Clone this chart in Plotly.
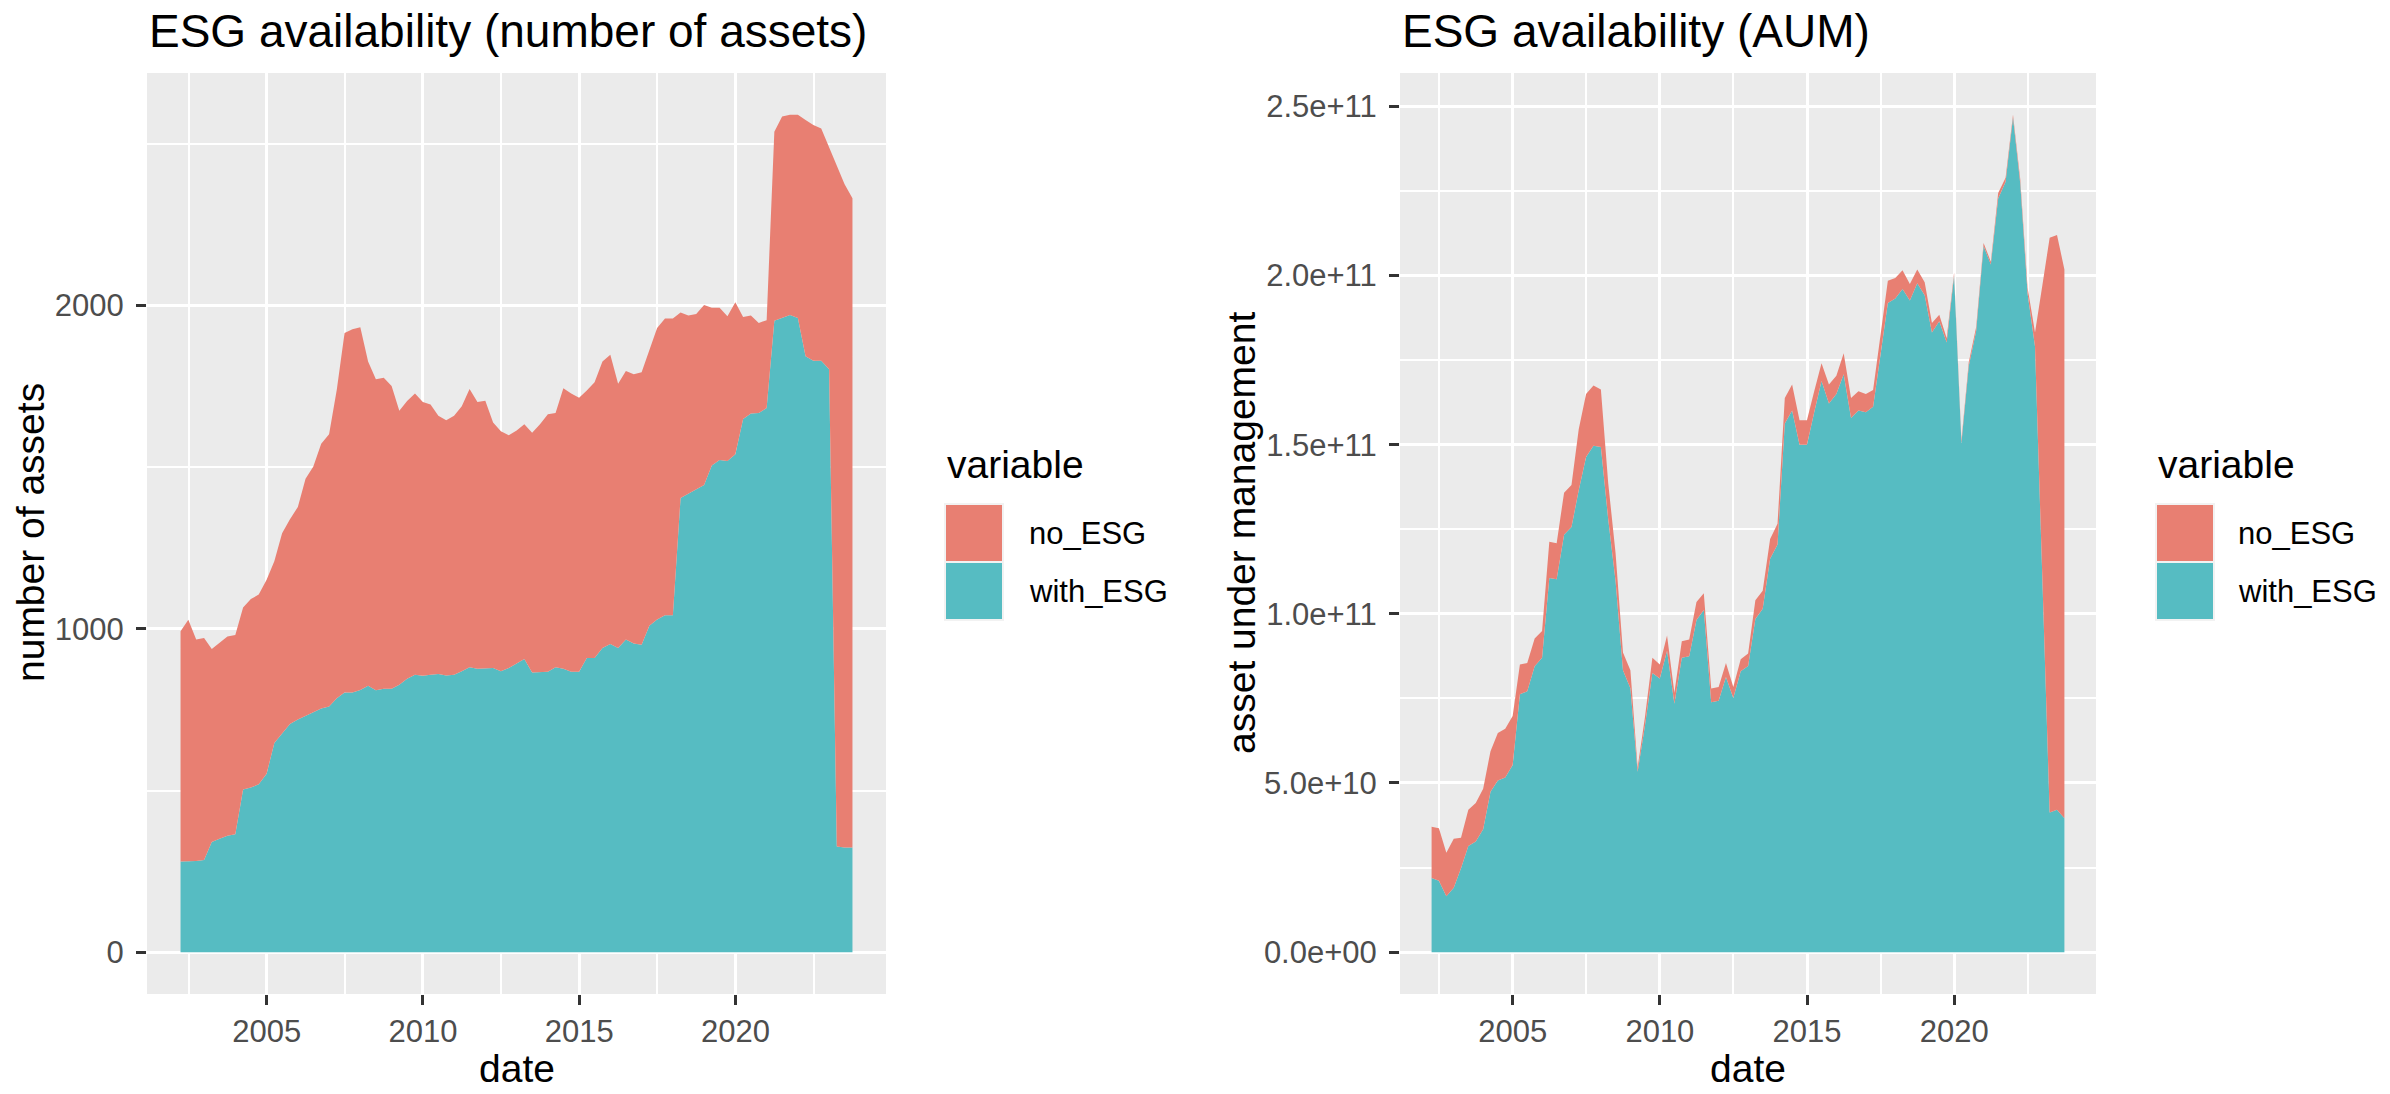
import pandas as pd
import plotly.graph_objects as go

# ---------------- data (quarter-end dates, 2002Q1 .. 2023Q3) ----------------
try:
    dates = pd.date_range("2002-03-31", periods=87, freq="QE")
except Exception:
    dates = pd.date_range("2002-03-31", periods=87, freq="Q")

# number of assets
assets_with_ESG = [280, 280, 282, 285, 341, 351, 360, 365, 503, 509, 519, 552, 647, 676, 706, 720,
                   730, 742, 754, 760, 785, 803, 803, 811, 824, 810, 815, 815, 827, 846, 858, 855,
                   858, 860, 856, 858, 869, 881, 877, 879, 879, 869, 879, 893, 907, 865, 867, 867,
                   881, 877, 867, 867, 910, 910, 941, 953, 941, 967, 955, 951, 1010, 1029, 1042, 1042,
                   1405, 1419, 1433, 1445, 1505, 1522, 1519, 1540, 1649, 1666, 1668, 1683, 1953, 1962,
                   1971, 1962, 1843, 1829, 1829, 1803, 327, 324, 324]
assets_no_ESG = [713, 748, 685, 687, 597, 607, 616, 616, 563, 583, 587, 600, 562, 620, 633, 657,
                 734, 760, 819, 842, 955, 1112, 1124, 1122, 1003, 962, 962, 936, 848, 859, 870, 847,
                 836, 799, 789, 801, 820, 861, 825, 827, 759, 742, 720, 721, 726, 742, 766, 797,
                 787, 867, 861, 848, 827, 853, 886, 895, 817, 831, 833, 843, 853, 902, 918, 918,
                 574, 550, 541, 557, 488, 471, 448, 470, 316, 303, 278, 272, 585, 623, 619, 628,
                 731, 730, 719, 687, 2107, 2051, 2008]

# asset under management, in billions
aum_with_ESG_bn = [21.9, 21.1, 16.5, 19.0, 24.8, 31.4, 32.7, 36.3, 47.4, 50.7, 51.6, 55.3, 76.2, 77.1,
                   84.5, 87.0, 110.6, 110.2, 123.4, 125.7, 136.5, 146.4, 149.7, 149.3, 127.9, 109.7,
                   83.3, 78.0, 53.3, 67.0, 82.5, 80.9, 89.1, 73.4, 87.0, 87.5, 98.2, 101.1, 73.9,
                   74.3, 81.3, 75.1, 83.0, 84.6, 98.5, 101.5, 116.3, 120.5, 156.3, 160.1, 150.0,
                   150.0, 159.6, 168.8, 162.2, 165.0, 170.8, 157.9, 160.1, 159.6, 161.2, 176.6,
                   191.9, 193.2, 196.0, 192.6, 197.7, 194.2, 183.2, 186.5, 180.2, 200.0, 150.5,
                   173.3, 183.6, 208.7, 203.3, 222.8, 227.7, 246.7, 227.2, 194.7, 179.0, 110.0,
                   41.3, 42.1, 39.6]
aum_no_ESG_bn = [15.2, 15.5, 12.9, 14.5, 9.0, 10.7, 11.4, 12.0, 12.0, 14.1, 14.4, 14.5, 8.8, 8.4,
                 8.2, 7.9, 10.7, 10.7, 12.4, 12.4, 18.1, 18.6, 17.8, 17.0, 10.7, 8.3, 5.3, 5.3,
                 1.3, 2.5, 4.5, 4.1, 4.5, 3.3, 4.9, 4.9, 5.3, 5.0, 4.0, 4.1, 4.2, 3.3, 3.6, 3.7,
                 5.5, 5.3, 5.8, 6.1, 7.5, 7.7, 7.2, 7.2, 6.2, 5.3, 5.6, 5.4, 6.2, 5.9, 5.7, 5.4,
                 5.0, 5.7, 6.6, 6.1, 5.6, 4.9, 4.1, 3.8, 2.8, 1.9, 1.3, 0.8, 0.8, 1.1, 1.2, 0.9,
                 0.8, 1.6, 1.2, 0.8, 1.3, 1.7, 4.2, 87.2, 169.9, 169.9, 162.2]

series_names = ["no_ESG", "with_ESG"]
colors = {"no_ESG": "#E87F72", "with_ESG": "#56BCC2"}

x_major = ["2005-01-01", "2010-01-01", "2015-01-01", "2020-01-01"]
x_major_text = ["2005", "2010", "2015", "2020"]
x_minor = ["2002-07-02", "2007-07-02", "2012-07-02", "2017-07-02", "2022-07-02"]
x_range = ["2001-03-04", "2024-10-26"]

y1_major = [0, 1000, 2000]
y1_major_text = ["0", "1000", "2000"]
y1_minor = [500, 1500, 2500]
y1_range = [-129.5, 2719.5]

y2_major = [0, 5e10, 1e11, 1.5e11, 2e11, 2.5e11]
y2_major_text = ["0.0e+00", "5.0e+10", "1.0e+11", "1.5e+11", "2.0e+11", "2.5e+11"]
y2_minor = [2.5e10, 7.5e10, 1.25e11, 1.75e11, 2.25e11]
y2_range = [-1.2375e10, 2.59875e11]

# ---------------- figure ----------------
W, H = 2390, 1094
FONT = "Liberation Sans, Arial, Helvetica, sans-serif"

fig = go.Figure()

fig.add_trace(go.Scatter(x=dates, y=assets_with_ESG, name="with_ESG", mode="lines",
                         stackgroup="a", line=dict(width=0), fillcolor=colors["with_ESG"],
                         xaxis="x", yaxis="y", showlegend=False))
fig.add_trace(go.Scatter(x=dates, y=assets_no_ESG, name="no_ESG", mode="lines",
                         stackgroup="a", line=dict(width=0), fillcolor=colors["no_ESG"],
                         xaxis="x", yaxis="y", showlegend=False))
fig.add_trace(go.Scatter(x=dates, y=[v * 1e9 for v in aum_with_ESG_bn], name="with_ESG", mode="lines",
                         stackgroup="b", line=dict(width=0), fillcolor=colors["with_ESG"],
                         xaxis="x2", yaxis="y2", showlegend=False))
fig.add_trace(go.Scatter(x=dates, y=[v * 1e9 for v in aum_no_ESG_bn], name="no_ESG", mode="lines",
                         stackgroup="b", line=dict(width=0), fillcolor=colors["no_ESG"],
                         xaxis="x2", yaxis="y2", showlegend=False))

px = lambda v: v / W
py = lambda v: 1 - v / H

panel_left = (147, 886)
panel_right = (1400, 2096)
panel_y = (73, 994)

common_axis = dict(
    showline=False, zeroline=False, showgrid=True, gridcolor="white", gridwidth=3,
    ticks="outside", ticklen=10, tickwidth=2.5, tickcolor="#333333",
    tickfont=dict(family=FONT, size=31, color="#4D4D4D"),
)

def xaxis(domain, anchor):
    return dict(common_axis, type="date", domain=domain, anchor=anchor, range=x_range,
                tickmode="array", tickvals=x_major, ticktext=x_major_text, ticklabelstandoff=0,
                minor=dict(tickvals=x_minor, showgrid=True, gridcolor="white", gridwidth=1.5, ticks=""))

def yaxis(domain, anchor, rng, tv, tt, mv):
    return dict(common_axis, domain=domain, anchor=anchor, range=rng,
                tickmode="array", tickvals=tv, ticktext=tt, ticklabelstandoff=6,
                minor=dict(tickvals=mv, showgrid=True, gridcolor="white", gridwidth=1.5, ticks=""))

ydom = [py(panel_y[1]), py(panel_y[0])]
fig.update_layout(
    width=W, height=H, autosize=False,
    margin=dict(l=0, r=0, t=0, b=0, pad=0),
    paper_bgcolor="white", plot_bgcolor="#EBEBEB",
    font=dict(family=FONT, color="black"),
    showlegend=False,
    xaxis=xaxis([px(panel_left[0]), px(panel_left[1])], "y"),
    yaxis=yaxis(ydom, "x", y1_range, y1_major, y1_major_text, y1_minor),
    xaxis2=xaxis([px(panel_right[0]), px(panel_right[1])], "y2"),
    yaxis2=yaxis(ydom, "x2", y2_range, y2_major, y2_major_text, y2_minor),
)

ann = []
# titles
ann.append(dict(text="ESG availability (number of assets)", x=px(panel_left[0]), y=py(31),
                xanchor="left", yanchor="middle", font=dict(size=46, color="black")))
ann.append(dict(text="ESG availability (AUM)", x=px(panel_right[0]), y=py(31),
                xanchor="left", yanchor="middle", font=dict(size=46, color="black")))
# axis titles
for cx in [(panel_left[0] + panel_left[1]) / 2, (panel_right[0] + panel_right[1]) / 2]:
    ann.append(dict(text="date", x=px(cx), y=py(1068), xanchor="center", yanchor="middle",
                    font=dict(size=39, color="black")))
ann.append(dict(text="number of assets", x=px(30), y=py(533), textangle=-90,
                xanchor="center", yanchor="middle", font=dict(size=39, color="black")))
ann.append(dict(text="asset under management", x=px(1241), y=py(533), textangle=-90,
                xanchor="center", yanchor="middle", font=dict(size=39, color="black")))

# legends (drawn like ggplot guides)
shapes = []
key = 58
key_tops = [504, 504 + key]
for lx, tx in [(945, 1027), (2156, 2236)]:
    ann.append(dict(text="variable", x=px(lx), y=py(465), xanchor="left", yanchor="middle",
                    font=dict(size=39, color="black")))
    for name, top in zip(series_names, key_tops):
        shapes.append(dict(type="rect", xref="paper", yref="paper",
                           x0=px(lx), x1=px(lx + key), y0=py(top + key), y1=py(top),
                           fillcolor=colors[name], line=dict(color="#F2F2F2", width=2), layer="above"))
        ann.append(dict(text=name, x=px(tx), y=py(top + key / 2), xanchor="left", yanchor="middle",
                        font=dict(size=31, color="black")))

for a in ann:
    a.update(xref="paper", yref="paper", showarrow=False)
    a["font"]["family"] = FONT
fig.update_layout(annotations=ann, shapes=shapes)

fig.write_html("out.html", config={"displayModeBar": False},
               post_script="document.body.style.margin='0';document.body.style.overflow='hidden';")
